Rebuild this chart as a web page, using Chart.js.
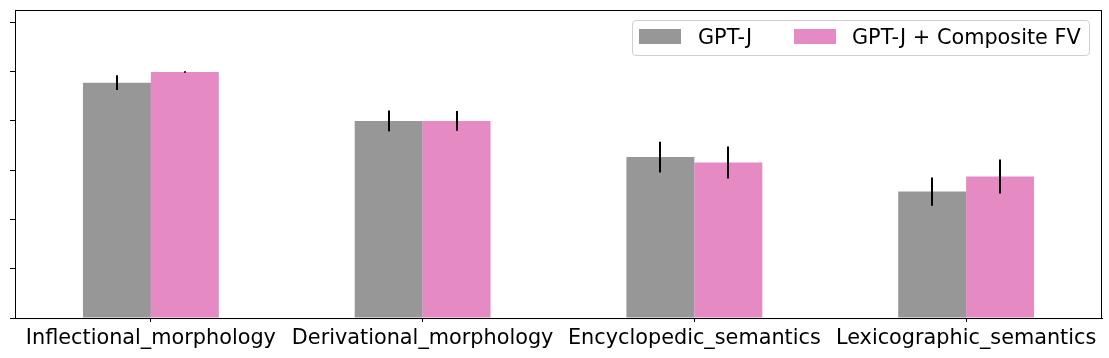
<!DOCTYPE html>
<html>
<head>
<meta charset="utf-8">
<script src="https://cdn.jsdelivr.net/npm/chart.js@4/dist/chart.umd.min.js"></script>
<style>
  body { margin: 0; background: #fff; }
  #wrap { position: relative; width: 1109px; height: 358px; }
  #legend {
    position: absolute; left: 632px; top: 20px; width: 456px; height: 34px;
    border: 1px solid #d0d0d0; border-radius: 4px; background: rgba(255,255,255,0.8);
    font-family: "DejaVu Sans", sans-serif; font-size: 20.8px; color: #000;
  }
  #legend .sw { position: absolute; top: 8px; width: 42px; height: 15px; }
  #legend .tx { position: absolute; top: 3px; line-height: 26px; white-space: nowrap; }
</style>
</head>
<body>
<div id="wrap">
  <canvas id="chart" width="1109" height="358"></canvas>
  <div id="legend">
    <span class="sw" style="left:6px;background:#979797"></span>
    <span class="tx" style="left:65px">GPT-J</span>
    <span class="sw" style="left:161px;background:#e68ac4"></span>
    <span class="tx" style="left:219px">GPT-J + Composite FV</span>
  </div>
</div>
<script>
const categories = ["Inflectional_morphology", "Derivational_morphology", "Encyclopedic_semantics", "Lexicographic_semantics"];
const seriesNames = ["GPT-J", "GPT-J + Composite FV"];
const baseValues = [0.955, 0.80, 0.653, 0.513];
const baseErrors = [0.030, 0.042, 0.062, 0.057];
const fvValues = [0.998, 0.80, 0.631, 0.574];
const fvErrors = [0.003, 0.040, 0.065, 0.069];
const yTicks = [0, 0.2, 0.4, 0.6, 0.8, 1.0, 1.2];

const errorBars = {
  id: "errorBars",
  afterDatasetsDraw(chart) {
    const ctx = chart.ctx;
    const y = chart.scales.y;
    ctx.save();
    ctx.strokeStyle = "#000";
    ctx.lineWidth = 2;
    chart.data.datasets.forEach((ds, i) => {
      const meta = chart.getDatasetMeta(i);
      meta.data.forEach((bar, j) => {
        const v = ds.data[j], e = ds.errors[j];
        ctx.beginPath();
        ctx.moveTo(Math.round(bar.x), y.getPixelForValue(v - e));
        ctx.lineTo(Math.round(bar.x), y.getPixelForValue(v + e));
        ctx.stroke();
      });
    });
    ctx.restore();
  }
};

const frame = {
  id: "frame",
  afterDraw(chart) {
    const a = chart.chartArea;
    const ctx = chart.ctx;
    ctx.save();
    ctx.strokeStyle = "#000";
    ctx.lineWidth = 1;
    ctx.strokeRect(a.left + 0.5, a.top + 0.5, a.right - a.left - 1, a.bottom - a.top);
    ctx.restore();
  }
};

new Chart(document.getElementById("chart").getContext("2d"), {
  type: "bar",
  data: {
    labels: categories,
    datasets: [
      { label: seriesNames[0], data: baseValues, errors: baseErrors,
        backgroundColor: "#979797" },
      { label: seriesNames[1], data: fvValues, errors: fvErrors,
        backgroundColor: "#e68ac4" }
    ]
  },
  options: {
    responsive: false,
    animation: false,
    events: [],
    layout: { padding: { left: 10, right: 7, top: 10, bottom: 3 } },
    datasets: { bar: { categoryPercentage: 0.5, barPercentage: 1.0 } },
    plugins: { legend: { display: false }, tooltip: { enabled: false } },
    scales: {
      x: {
        grid: { display: true, offset: false, drawOnChartArea: false, drawTicks: true,
                tickLength: 4, color: "#000" },
        border: { display: true, color: "#000" },
        ticks: { color: "#000", padding: 4, maxRotation: 0, autoSkip: false,
                 font: { family: "DejaVu Sans", size: 20.8 } }
      },
      y: {
        min: 0, max: 1.25,
        afterBuildTicks(axis) { axis.ticks = yTicks.map(v => ({ value: v })); },
        grid: { display: true, drawOnChartArea: false, drawTicks: true, tickLength: 5, color: "#000" },
        border: { display: true, color: "#000" },
        ticks: { display: false }
      }
    }
  },
  plugins: [errorBars, frame]
});
</script>
</body>
</html>
